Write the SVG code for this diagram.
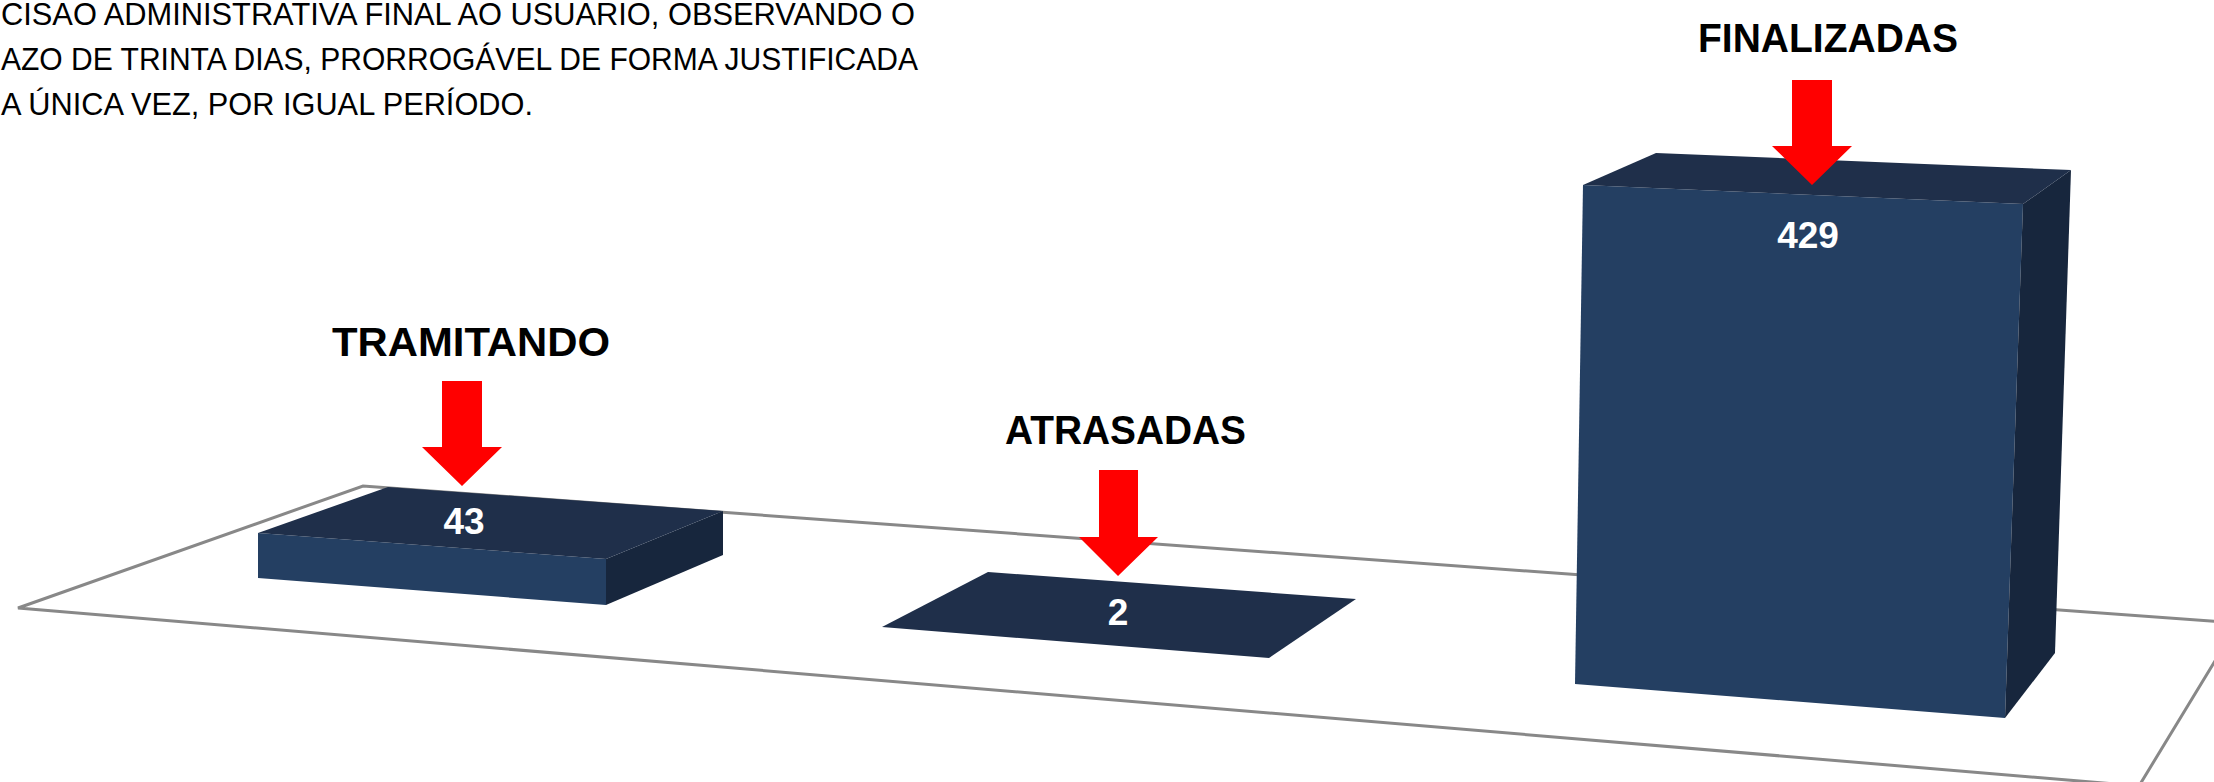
<svg xmlns="http://www.w3.org/2000/svg" width="2214" height="782" viewBox="0 0 2214 782">
<defs>
<style>
.note{font-family:"Liberation Sans",Arial,sans-serif;font-size:32px;fill:#000}
.cat{font-family:"Liberation Sans",Arial,sans-serif;font-size:41px;font-weight:bold;fill:#000}
.val{font-family:"Liberation Sans",Arial,sans-serif;font-size:37px;font-weight:bold;fill:#fff;text-anchor:middle}
.top{fill:#1f2f4a}
.front{fill:#243f62}
.side{fill:#17263d}
.arrow{fill:#ff0000}
.floor{fill:none;stroke:#888;stroke-width:3}
</style>
</defs>
<rect width="2214" height="782" fill="#fff"/>
<g id="note">
<text class="note" x="1" y="25" textLength="914" lengthAdjust="spacingAndGlyphs">CISAO ADMINISTRATIVA FINAL AO USUARIO, OBSERVANDO O</text>
<text class="note" x="1" y="70" textLength="917" lengthAdjust="spacingAndGlyphs">AZO DE TRINTA DIAS, PRORROGÁVEL DE FORMA JUSTIFICADA</text>
<text class="note" x="1" y="115" textLength="532" lengthAdjust="spacingAndGlyphs">A ÚNICA VEZ, POR IGUAL PERÍODO.</text>
</g>
<g id="floor">
<polygon class="floor" points="18,608 363,486 2238,623 2139,786"/>
</g>
<g id="bar-tramitando">
<polygon class="front" points="258,533 606,559 606,605 258,578"/>
<polygon class="side" points="606,559 723,511 723,555 606,605"/>
<polygon class="top" points="258,533 388,487 723,511 606,559"/>
<text class="val" x="464" y="534">43</text>
</g>
<g id="bar-atrasadas">
<polygon class="top" points="988,572 1356,599 1269,658 882,627"/>
<text class="val" x="1118" y="625">2</text>
</g>
<g id="bar-finalizadas">
<polygon class="front" points="1583,185 2023,204 2005,718 1575,684"/>
<polygon class="side" points="2023,204 2071,170 2055,653 2005,718"/>
<polygon class="top" points="1583,185 1656,153 2071,170 2023,204"/>
<text class="val" x="1808" y="248">429</text>
</g>
<g id="connectors">
<polygon class="arrow" points="442,381 482,381 482,447 502,447 462,486 422,447 442,447"/>
<polygon class="arrow" points="1099,470 1138,470 1138,537 1158,537 1118,576 1079,537 1099,537"/>
<polygon class="arrow" points="1792,80 1832,80 1832,146 1852,146 1812,185 1772,146 1792,146"/>
</g>
<g id="labels">
<text class="cat" x="332" y="356" textLength="278" lengthAdjust="spacingAndGlyphs">TRAMITANDO</text>
<text class="cat" x="1005" y="444" textLength="241" lengthAdjust="spacingAndGlyphs">ATRASADAS</text>
<text class="cat" x="1698" y="52" textLength="260" lengthAdjust="spacingAndGlyphs">FINALIZADAS</text>
</g>
</svg>
